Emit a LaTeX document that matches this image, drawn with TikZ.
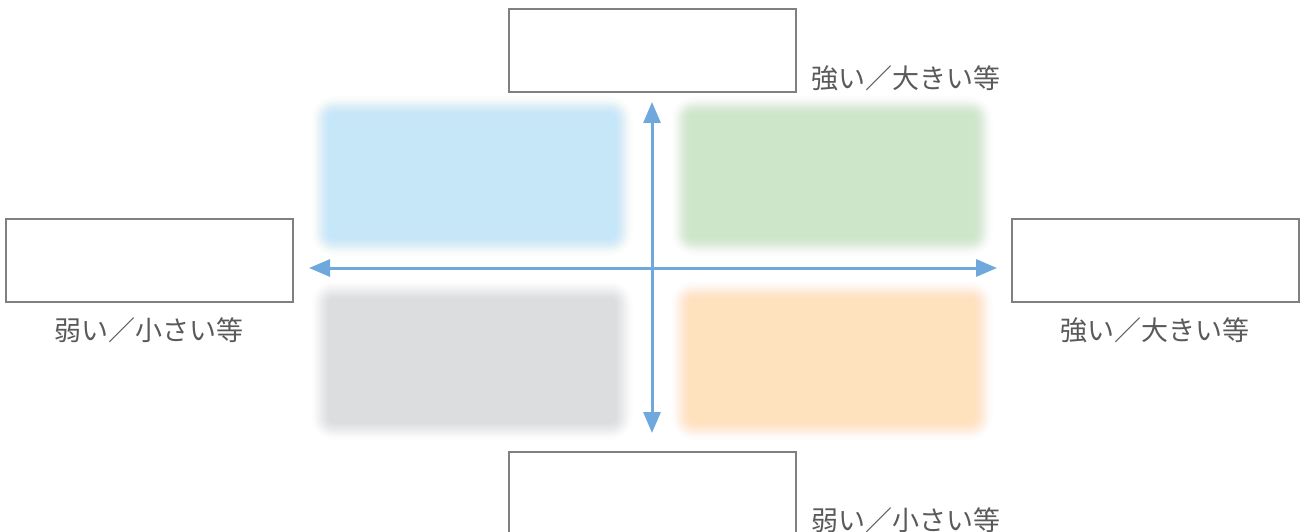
\documentclass[tikz,border=0pt]{standalone}
\usepackage{fontspec}
\newfontfamily\cjk{Noto Sans CJK JP}
\usetikzlibrary{arrows.meta}
\definecolor{boxline}{HTML}{808080}
\definecolor{axis}{HTML}{6FA8DC}
\definecolor{txt}{HTML}{5A5A5A}
\definecolor{qblue}{HTML}{C5E7F8}
\definecolor{qgreen}{HTML}{CDE6CA}
\definecolor{qgray}{HTML}{DCDDDF}
\definecolor{qorange}{HTML}{FEE2BE}
\tikzset{
  labelbox/.style={draw=boxline, line width=1.1pt, fill=white, minimum width=287pt, minimum height=83pt, inner sep=0pt},
  labeltext/.style={font=\cjk\fontsize{27}{31}\selectfont, text=txt, inner sep=0pt},
  axisline/.style={draw=axis, line width=3pt, {Triangle[length=21pt,width=17pt]}-{Triangle[length=21pt,width=17pt]}}
}
% smoothstep-profiled blur: N layers, 1pt apart
\newcommand\blurquad[5]{%
  \foreach \k in {1,...,22}{%
    \pgfmathsetmacro\tA{(\k-1)/22}%
    \pgfmathsetmacro\tB{\k/22}%
    \pgfmathsetmacro\cA{3*\tA*\tA-2*\tA*\tA*\tA}%
    \pgfmathsetmacro\cB{3*\tB*\tB-2*\tB*\tB*\tB}%
    \pgfmathsetmacro\aa{min(1,(\cB-\cA)/max(0.0001,1-\cA))}%
    \pgfmathsetmacro\rr{max(3,24-\k)}%
    \fill[#5, opacity=\aa, rounded corners=\rr pt] ({#1+\k-1},{-(#2+\k-1)}) rectangle ({#3-\k+1},{-(#4-\k+1)});
  }%
}
\begin{document}
\begin{tikzpicture}[x=1pt,y=1pt]
\useasboundingbox (0,0) rectangle (1307,-532);
\fill[white] (0,0) rectangle (1307,-532);
% blurred quadrants
\blurquad{311}{96}{633}{256}{qblue}
\blurquad{671}{96}{993}{256}{qgreen}
\blurquad{311}{281}{633}{440}{qgray}
\blurquad{671}{281}{993}{440}{qorange}
% boxes
\node[labelbox] (top) at (652.5,-50.5) {};
\node[labelbox] (left) at (149.5,-260.5) {};
\node[labelbox] (right) at (1155.5,-260.5) {};
\node[labelbox, minimum height=90pt] (bottom) at (652.5,-497) {};
% labels
\node[labeltext] (ltop) at (906,-78) {強い／大きい等};
\node[labeltext] (lleft) at (149,-330) {弱い／小さい等};
\node[labeltext] (lright) at (1155,-330) {強い／大きい等};
\node[labeltext] (lbottom) at (906,-520) {弱い／小さい等};
% axes
\coordinate (hl) at (309,-268);
\coordinate (hr) at (997,-268);
\coordinate (vt) at (652,-102);
\coordinate (vb) at (652,-433);
\draw[axisline] (hl) -- (hr);
\draw[axisline] (vb) -- (vt);
\end{tikzpicture}
\end{document}
